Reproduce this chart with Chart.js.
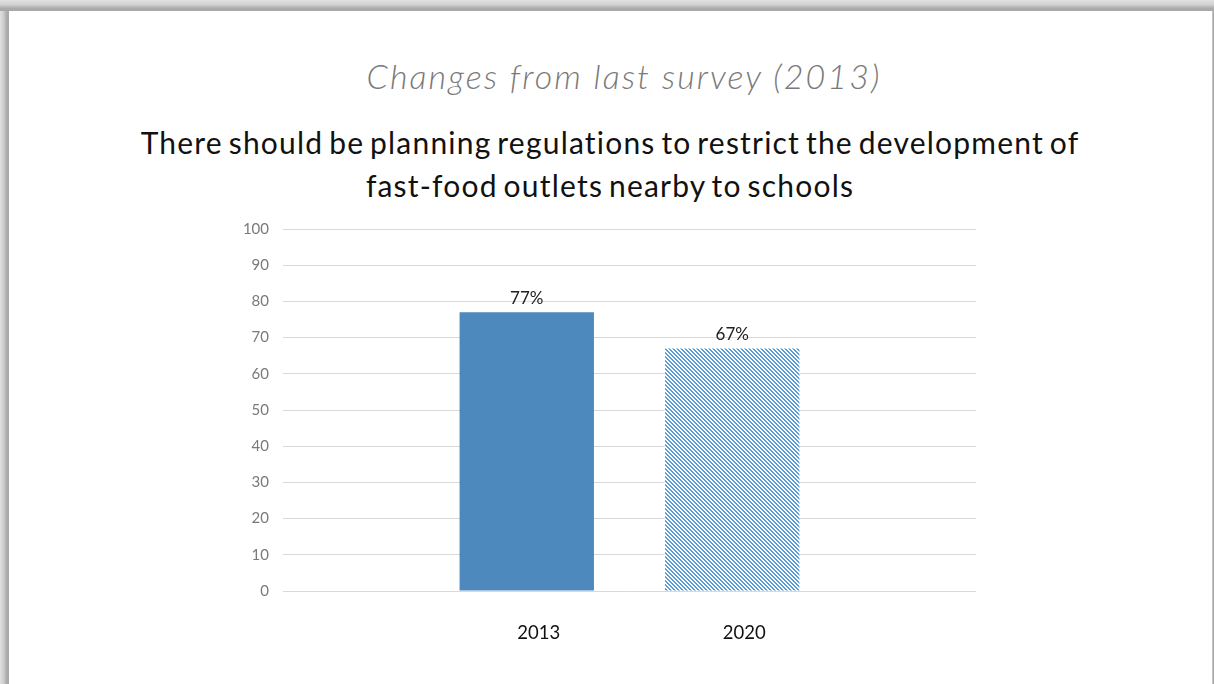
<!DOCTYPE html>
<html>
<head>
<meta charset="utf-8">
<script src="https://cdn.jsdelivr.net/npm/chart.js@4/dist/chart.umd.min.js"></script>
<style>
  html, body { margin: 0; padding: 0; background: #fff; }
  body { width: 1214px; height: 684px; position: relative; overflow: hidden; font-family: Lato, "Open Sans", sans-serif; }
  #topband { position: absolute; left: 0; top: 0; width: 1214px; height: 11px; background: linear-gradient(#e2e2e2, #cfcfcf 45%, #ababab 75%, #a8a8a8); z-index: 3; }
  #leftband { position: absolute; left: 0; top: 0; width: 9px; height: 684px; background: linear-gradient(to right, #e0e0e0, #cdcdcd 40%, #ababab 75%, #a8a8a8); z-index: 2; }
  #rightband { position: absolute; right: 0; top: 0; width: 2px; height: 684px; background: linear-gradient(to right, #d0d0d0, #9a9a9a); z-index: 2; }
  #subtitle { position: absolute; left: 0; top: 53px; width: 1248px; text-align: center; font-family: Lato, sans-serif; font-style: italic; font-weight: 300; font-size: 34px; letter-spacing: 2.1px; color: #7a7a7a; line-height: 46px; }
  #title { position: absolute; left: 0; top: 121px; width: 1220px; text-align: center; font-family: Lato, sans-serif; font-size: 30px; letter-spacing: 1.2px; color: #111; line-height: 43px; word-spacing: -3px; }
  #wrap { position: absolute; left: 0; top: 0; width: 1214px; height: 684px; }
</style>
</head>
<body>
<div id="topband"></div>
<div id="leftband"></div>
<div id="rightband"></div>
<div id="subtitle">Changes from last survey (2013)</div>
<div id="title">There should be planning regulations to restrict the development of<br>fast-food outlets nearby to schools</div>
<div id="wrap"><canvas id="c" width="1214" height="684"></canvas></div>
<script>
const categories = ['2013', '2020'];
const values = [77, 67];
const yTickMin = 0;
const yTickMax = 100;
const yTickStep = 10;

function hatchPattern() {
  const s = 4;
  const cv = document.createElement('canvas');
  cv.width = s; cv.height = s;
  const g = cv.getContext('2d');
  g.fillStyle = '#ffffff';
  g.fillRect(0, 0, s, s);
  g.fillStyle = '#5b9bd5';
  for (let i = 0; i < s; i++) {
    g.fillRect(i, i, 1, 1);
    g.fillRect((i + 1) % s, i, 1, 1);
  }
  return g.createPattern(cv, 'repeat');
}

const fills = ['#4e89bd', hatchPattern()];

const datasets = categories.map((cat, i) => ({
  label: cat,
  data: [values[i]],
  backgroundColor: fills[i],
  borderWidth: 0,
  categoryPercentage: 0.593,
  barPercentage: 0.654
}));

const labelPlugin = {
  id: 'barLabels',
  afterDatasetsDraw(chart) {
    const ctx = chart.ctx;
    ctx.save();
    chart.data.datasets.forEach((ds, i) => {
      const meta = chart.getDatasetMeta(i);
      meta.data.forEach((bar, j) => {
        const v = ds.data[j];
        ctx.fillStyle = '#222';
        ctx.font = '17px Lato, sans-serif';
        ctx.textAlign = 'center';
        ctx.textBaseline = 'bottom';
        ctx.fillText(v + '%', bar.x, bar.y - 5);
        ctx.fillStyle = '#111';
        ctx.font = '18.5px Lato, sans-serif';
        ctx.textBaseline = 'middle';
        ctx.fillText(ds.label, bar.x + 12, chart.chartArea.bottom + 42);
      });
    });
    ctx.restore();
  }
};

new Chart(document.getElementById('c'), {
  type: 'bar',
  data: { labels: [''], datasets },
  options: {
    responsive: false,
    animation: false,
    events: [],
    layout: { padding: { left: 200, right: 238, top: 229, bottom: 93 } },
    plugins: { legend: { display: false }, tooltip: { enabled: false }, title: { display: false } },
    scales: {
      x: { display: false },
      y: {
        min: yTickMin, max: yTickMax,
        afterFit(scale) { scale.width = 83; },
        ticks: { stepSize: yTickStep, padding: 14, color: '#7a7a7a', font: { family: 'Lato, sans-serif', size: 15 } },
        grid: { color: '#d9d9d9', drawTicks: false, lineWidth: 1 },
        border: { display: false }
      }
    }
  },
  plugins: [labelPlugin]
});
</script>
</body>
</html>
